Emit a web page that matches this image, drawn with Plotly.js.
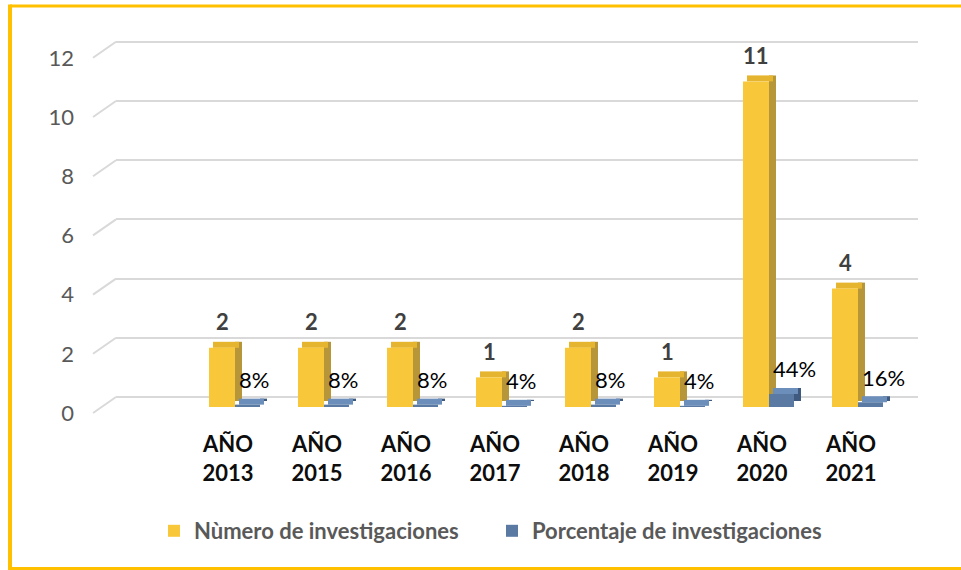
<!DOCTYPE html>
<html>
<head>
<meta charset="utf-8">
<script src="https://cdn.plot.ly/plotly-3.0.1.min.js"></script>
<style>html,body{margin:0;padding:0;background:#fff;overflow:hidden}#chart{width:961px;height:570px}</style>
</head>
<body>
<div id="chart"></div>
<script>
// ---- data ----
const categories = ["AÑO 2013","AÑO 2015","AÑO 2016","AÑO 2017","AÑO 2018","AÑO 2019","AÑO 2020","AÑO 2021"];
const numeroInvestigaciones = [2, 2, 2, 1, 2, 1, 11, 4];
const porcentajeInvestigaciones = [0.08, 0.08, 0.08, 0.04, 0.08, 0.04, 0.44, 0.16];
const yTickValues = [0, 2, 4, 6, 8, 10, 12];
const seriesNames = ["Nùmero de investigaciones", "Porcentaje de investigaciones"];

// ---- layout geometry (pixels) ----
const W = 961, H = 570;
const M = {l: 20, r: 43, t: 30, b: 150};
const plotL = M.l, plotR = W - M.r, plotT = M.t, plotB = H - M.b;
const wallLeft = 116;            // back wall left edge
const pxPerUnit = 29.6;          // vertical scale
const front0 = 407, back0 = 397, label0 = 413;
const catPx = 89, cat0Px = 228;
const xr0 = -(cat0Px - wallLeft) / catPx;
const xr1 = xr0 + (plotR - wallLeft) / catPx;
function yRange(zeroPx){ return [-(plotB - zeroPx)/pxPerUnit, (zeroPx - plotT)/pxPerUnit]; }
function px2paperX(px){ return (px - plotL)/(plotR - plotL); }
function px2paperY(py){ return (plotB - py)/(plotB - plotT); }
const u = p => p / catPx;         // px -> category units
const dUp = 6 / pxPerUnit;        // depth (vertical) in value units

const FONT = "Lato, 'Noto Sans', sans-serif";
const yFront = "#f9c83a", yTop = "#e6b52f", ySide = "#b7963a";
const bFront = "#5a7aa4", bTop = "#6c8eba", bSide = "#3f5a7e";

const common = {type: "bar", x: categories, hoverinfo: "skip", showlegend: false, yaxis: "y", xaxis: "x"};
const traces = [
  // 3D depth: sides and tops (derived from data)
  Object.assign({}, common, {y: numeroInvestigaciones, base: numeroInvestigaciones.map(() => dUp),
    offset: u(7), width: u(7), marker: {color: ySide}}),
  Object.assign({}, common, {y: porcentajeInvestigaciones, base: porcentajeInvestigaciones.map(() => dUp),
    offset: u(32), width: u(7), marker: {color: bSide}}),
  Object.assign({}, common, {y: numeroInvestigaciones.map(() => dUp), base: numeroInvestigaciones,
    offset: u(-15), width: u(26), marker: {color: yTop}}),
  Object.assign({}, common, {y: porcentajeInvestigaciones.map(() => dUp), base: porcentajeInvestigaciones,
    offset: u(11), width: u(25), marker: {color: bTop}}),
  // front faces
  Object.assign({}, common, {name: seriesNames[0], y: numeroInvestigaciones, showlegend: true,
    offset: u(-19), width: u(26), marker: {color: yFront}}),
  Object.assign({}, common, {name: seriesNames[1], y: porcentajeInvestigaciones, showlegend: true,
    offset: u(7), width: u(25), marker: {color: bFront}})
];

const annotations = [];
categories.forEach((c, i) => {
  annotations.push({x: c, y: numeroInvestigaciones[i], xref: "x", yref: "y", text: "<b>" + numeroInvestigaciones[i] + "</b>",
    showarrow: false, xanchor: "center", yanchor: "middle", xshift: -6, yshift: 26,
    font: {family: FONT, size: 22, color: "#404040"}});
  annotations.push({x: c, y: porcentajeInvestigaciones[i], xref: "x", yref: "y", text: Math.round(porcentajeInvestigaciones[i]*100) + "%",
    showarrow: false, xanchor: "left", yanchor: "middle", xshift: 9, yshift: 25,
    font: {family: FONT, size: 22, color: "#000000"}});
});

const gridColor = "#d9d9d9";
const shapes = [];
// perspective stubs for gridlines
yTickValues.forEach(v => {
  shapes.push({type: "line", xref: "paper", yref: "y2", x0: px2paperX(93), x1: px2paperX(wallLeft),
    y0: v - 16/pxPerUnit, y1: v, line: {color: gridColor, width: 2}});
});
// gold frame
const gold = "#ffc000";
shapes.push({type: "line", xref: "paper", yref: "paper", x0: px2paperX(10), x1: px2paperX(990), y0: px2paperY(6), y1: px2paperY(6), line: {color: gold, width: 3}});
shapes.push({type: "line", xref: "paper", yref: "paper", x0: px2paperX(10), x1: px2paperX(990), y0: px2paperY(568.5), y1: px2paperY(568.5), line: {color: gold, width: 3}});
shapes.push({type: "line", xref: "paper", yref: "paper", x0: px2paperX(10), x1: px2paperX(10), y0: px2paperY(4.5), y1: px2paperY(570), line: {color: gold, width: 4}});

const layout = {
  width: W, height: H,
  margin: M,
  paper_bgcolor: "#ffffff", plot_bgcolor: "rgba(0,0,0,0)",
  barmode: "overlay",
  font: {family: FONT},
  showlegend: true,
  legend: {orientation: "h", x: px2paperX(154), xanchor: "left", y: px2paperY(531), yanchor: "middle",
    font: {family: FONT, size: 22, color: "#595959", weight: "bold"}, entrywidth: 293, entrywidthmode: "pixels",
    traceorder: "normal"},
  xaxis: {domain: [px2paperX(wallLeft), 1], range: [xr0, xr1], type: "category",
    tickvals: categories, ticktext: categories.map(s => "<b>" + s.replace(" ", "<br>") + "</b>"),
    tickfont: {family: FONT, size: 22, color: "#0d0d0d"}, showgrid: false, zeroline: false, showline: false, ticks: "",
    ticklabelstandoff: 9, fixedrange: true},
  yaxis: {range: yRange(front0), showgrid: false, zeroline: false, showticklabels: false, showline: false, fixedrange: true},
  yaxis2: {range: yRange(back0), overlaying: "y", showgrid: true, gridcolor: gridColor, gridwidth: 2,
    tickvals: yTickValues, showticklabels: false, zeroline: false, showline: false, fixedrange: true, layer: "below traces"},
  yaxis3: {range: yRange(label0), overlaying: "y", anchor: "free", position: px2paperX(74), side: "left",
    tickvals: yTickValues, ticktext: yTickValues.map(String), showgrid: false, zeroline: false, showline: false, ticks: "",
    tickfont: {family: FONT, size: 22, color: "#595959"}, fixedrange: true},
  annotations: annotations,
  shapes: shapes
};

// invisible traces to activate the overlay axes
traces.push({type: "scatter", x: [categories[0]], y: [0], yaxis: "y2", mode: "markers", marker: {opacity: 0}, showlegend: false, hoverinfo: "skip"});
traces.push({type: "scatter", x: [categories[0]], y: [0], yaxis: "y3", mode: "markers", marker: {opacity: 0}, showlegend: false, hoverinfo: "skip"});

Plotly.newPlot("chart", traces, layout, {displayModeBar: false, staticPlot: true});
</script>
</body>
</html>
